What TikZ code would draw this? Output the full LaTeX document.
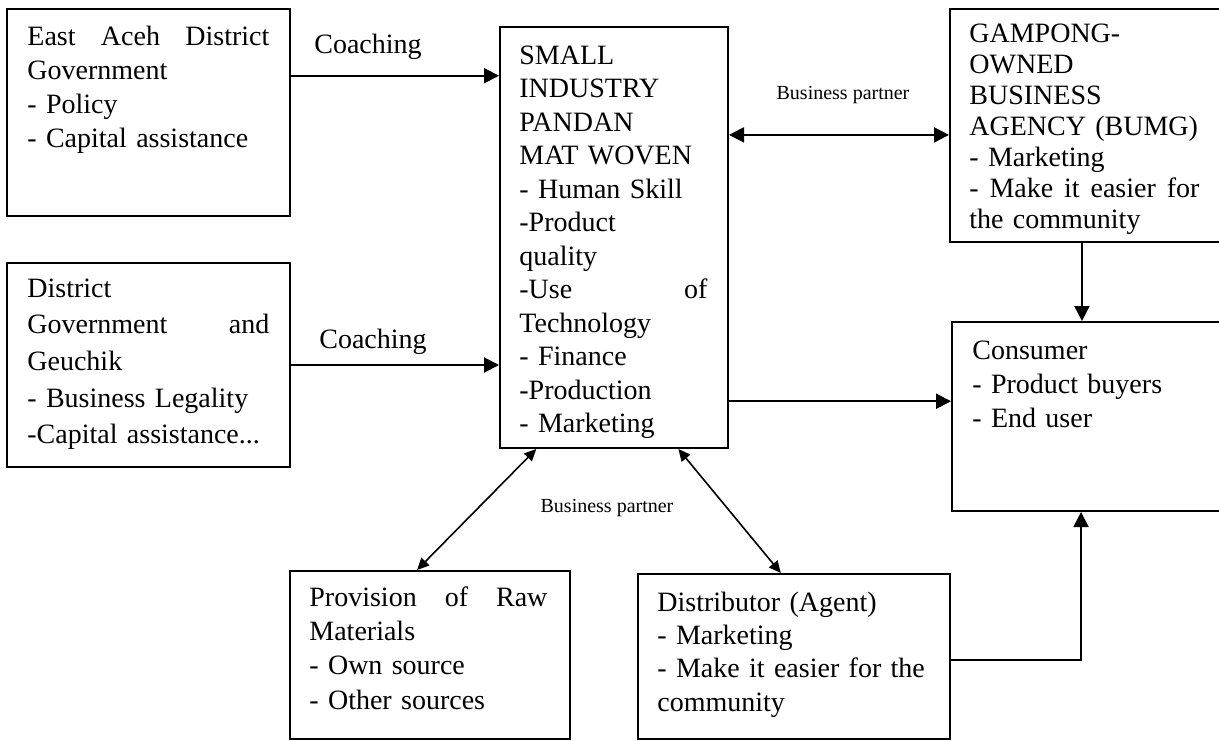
\documentclass[tikz,border=0pt]{standalone}
\usepackage{fontspec}
\setmainfont{Liberation Serif}
\usetikzlibrary{arrows.meta,positioning,calc,fit}

\begin{document}
\begin{tikzpicture}[
    x=0.5pt, y=-0.5pt,
    >={Triangle[length=7.5pt,width=7.5pt]},
    box/.style={rectangle, draw=black, line width=1pt, inner sep=0pt},
    txt/.style={anchor=base west, inner sep=0pt, align=left, font=\fontsize{14}{#1}\selectfont},
    txt/.default=17,
    lbl/.style={inner sep=0pt, anchor=base, font=\fontsize{14}{17}\selectfont},
    small/.style={inner sep=0pt, anchor=base, font=\fontsize{10}{12}\selectfont},
    link/.style={line width=1pt},
    partner/.style={line width=0.8pt, {Triangle[length=6pt,width=5.5pt]}-{Triangle[length=6pt,width=5.5pt]}}
  ]
    \useasboundingbox (0,0) rectangle (1219,740);

    % boxes
    \node[box, fit={(7,9) (290,216)}] (govt) {};
    \node[box, fit={(7,263) (290,467)}] (local) {};
    \node[box, fit={(500,27) (728,448)}] (smi) {};
    \node[box, fit={(950,9) (1229,242)}] (bumg) {};
    \node[box, fit={(952,322) (1229,511)}] (cons) {};
    \node[box, fit={(290,571) (570,739)}] (raw) {};
    \node[box, fit={(638,574) (950,739)}] (dist) {};

    % box texts
    \node[txt=17, text width=121pt] (govt text) at ($(govt.north west)+(21,37)$)
      {East\hfill Aceh\hfill District\\Government\\- Policy\\- Capital assistance};
    \node[txt=18.35, text width=121pt] (local text) at ($(local.north west)+(21,35)$)
      {District\\Government\hfill and\\Geuchik\\- Business Legality\\-Capital assistance...};
    \node[txt=16.75, text width=94pt] (smi text) at ($(smi.north west)+(20,38)$)
      {SMALL\\INDUSTRY\\PANDAN\\MAT WOVEN\\- Human Skill\\-Product\\quality\\-Use\hfill of\\Technology\\- Finance\\-Production\\- Marketing};
    \node[txt=15.5, text width=115pt] (bumg text) at ($(bumg.north west)+(20,34)$)
      {GAMPONG-\\OWNED\\BUSINESS\\AGENCY (BUMG)\\- Marketing\\-\hfill Make\hfill it\hfill easier\hfill for\\the community};
    \node[txt=17, text width=120pt] (cons text) at ($(cons.north west)+(21,38)$)
      {Consumer\\- Product buyers\\- End user};
    \node[txt=17.2, text width=119pt] (raw text) at ($(raw.north west)+(20,36)$)
      {Provision\hfill of\hfill Raw\\Materials\\- Own source\\- Other sources};
    \node[txt=16.7, text width=140pt] (dist text) at ($(dist.north west)+(20,38)$)
      {Distributor (Agent)\\- Marketing\\- Make it easier for the\\community};

    % connector labels
    \node[lbl] (coach top) at (368,53) {Coaching};
    \node[lbl] (coach low) at (373,348) {Coaching};
    \node[small] (partner top) at (843,99) {Business partner};
    \node[small] (partner low) at (607,512) {Business partner};

    % connectors
    \coordinate (govt out) at ($(govt.north east)!0.324!(govt.south east)$);
    \coordinate (bumg in) at ($(bumg.north west)!0.54!(bumg.south west)$);
    \coordinate (cons in) at ($(cons.north west)!0.42!(cons.south west)$);
    \coordinate (bumg out) at ($(bumg.south west)!0.473!(bumg.south east)$);
    \coordinate (cons low) at ($(cons.south west)!0.466!(cons.south east)$);

    \draw[->, link] (govt out) -- (govt out -| smi.west);
    \draw[->, link] (local.east) -- (local.east -| smi.west);
    \draw[<->, link] (bumg in -| smi.east) -- (bumg in);
    \draw[->, link] (bumg out) -- (bumg out |- cons.north);
    \draw[->, link] (cons in -| smi.east) -- (cons in);
    \draw[partner] ($(smi.south west)!0.162!(smi.south east)$) -- ($(raw.north west)!0.454!(raw.north east)$);
    \draw[partner] ($(smi.south west)!0.78!(smi.south east)$) -- ($(dist.north west)!0.458!(dist.north east)$);
    \draw[->, link] ($(dist.north east)!0.52!(dist.south east)$) -| (cons low);
\end{tikzpicture}
\end{document}
